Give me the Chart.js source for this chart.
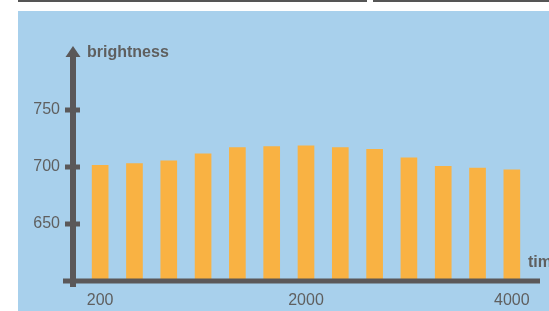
<!DOCTYPE html>
<html>
<head>
<meta charset="UTF-8">
<title>Brightness over time</title>
<style>
  body { margin: 0; background: #fff; }
  #chart { display: block; }
</style>
</head>
<body>
<canvas id="chart" width="549" height="311"></canvas>
<script src="https://cdn.jsdelivr.net/npm/chart.js"></script>
<script>
// values
const timeLabels = ['200', '500', '800', '1100', '1400', '1700', '2000', '2330', '2670', '3000', '3330', '3670', '4000'];
const shownLabels = ['200', '2000', '4000'];
const brightness = [701.5, 703, 705.5, 711.5, 717, 718, 718.5, 717, 715.5, 708, 700.5, 699, 697.5];
const yTicks = [650, 700, 750];
const yMin = 600;
const yMax = 800;

const axisColor = '#5b5859';
const textColor = '#5f5f5f';
const fontFamily = '"Liberation Sans", Arial, sans-serif';

// background panel, hand drawn axes with arrow, axis titles
const decor = {
    id: 'decor',
    beforeDraw(chart) {
        const ctx = chart.ctx;
        ctx.save();
        ctx.fillStyle = '#fff';
        ctx.fillRect(0, 0, chart.width, chart.height);
        ctx.fillStyle = '#a8d0ec';
        ctx.fillRect(18, 11, chart.width - 18, chart.height - 11);
        ctx.fillStyle = '#555';
        ctx.fillRect(18, 0, 349, 2);
        ctx.fillRect(373, 0, chart.width - 373, 2);
        ctx.restore();
    },
    afterDraw(chart) {
        const { ctx, chartArea, scales } = chart;
        const y = scales.y;
        const axisX = chartArea.left - 10;
        const baseY = y.getPixelForValue(yMin);
        const topY = y.getPixelForValue(yMax);
        ctx.save();
        ctx.fillStyle = axisColor;
        // x axis
        ctx.fillRect(chartArea.left - 20, baseY - 2.5, chartArea.right - chartArea.left + 31, 5);
        // y axis
        ctx.fillRect(axisX - 3, topY + 3, 6, baseY - topY + 3);
        // arrow head
        ctx.beginPath();
        ctx.moveTo(axisX, topY - 7);
        ctx.lineTo(axisX + 7.5, topY + 4);
        ctx.lineTo(axisX - 7.5, topY + 4);
        ctx.closePath();
        ctx.fill();
        // tick marks across the y axis
        yTicks.forEach(v => {
            const py = y.getPixelForValue(v);
            ctx.fillRect(axisX - 8, py - 2.5, 15, 5);
        });
        // titles
        ctx.fillStyle = textColor;
        ctx.font = 'bold 16px ' + fontFamily;
        ctx.textBaseline = 'middle';
        ctx.textAlign = 'left';
        ctx.fillText('brightness', axisX + 14, topY);
        ctx.fillText('time', chartArea.right - 1, baseY - 18);
        ctx.restore();
    }
};

const ctx = document.getElementById('chart').getContext('2d');
const chart = new Chart(ctx, {
    type: 'bar',
    data: {
        labels: timeLabels,
        datasets: [{
            label: 'brightness',
            data: brightness,
            backgroundColor: '#f9b243',
            barThickness: 16,
            borderWidth: 0
        }]
    },
    options: {
        responsive: false,
        animation: false,
        layout: { padding: { left: 0, right: 20, top: 53, bottom: 0 } },
        plugins: {
            legend: { display: false },
            tooltip: { enabled: false }
        },
        scales: {
            x: {
                grid: { display: false, drawTicks: false },
                border: { display: false },
                ticks: {
                    autoSkip: false,
                    maxRotation: 0,
                    padding: 10,
                    color: textColor,
                    font: { family: fontFamily, size: 16 },
                    callback: function(value) {
                        const lab = this.getLabelForValue(value);
                        return shownLabels.includes(lab) ? lab : '';
                    }
                },
                afterFit: s => { s.height = 30; }
            },
            y: {
                min: yMin,
                max: yMax,
                // invisible tick marks only push the labels left
                grid: { display: true, drawOnChartArea: false, drawTicks: true, tickLength: 23, color: 'transparent' },
                border: { display: false },
                ticks: {
                    stepSize: 50,
                    padding: 0,
                    color: textColor,
                    font: { family: fontFamily, size: 16 },
                    callback: v => yTicks.includes(v) ? String(v) : ''
                },
                afterFit: s => { s.width = 83; }
            }
        }
    },
    plugins: [decor]
});
</script>
</body>
</html>
